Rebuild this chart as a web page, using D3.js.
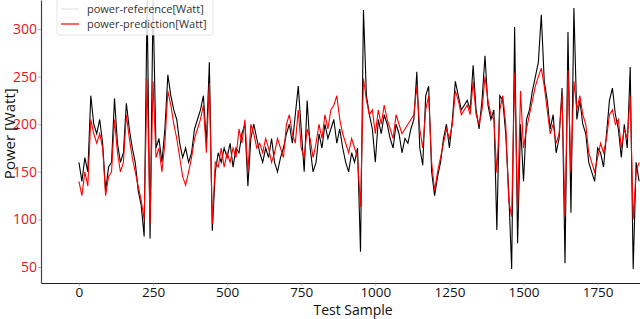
<!DOCTYPE html>
<html>
<head>
<meta charset="utf-8">
<script src="https://cdn.jsdelivr.net/npm/d3@7"></script>
<style>
  body { margin: 0; background: #fff; }
  text { font-family: "Open Sans", "Noto Sans", sans-serif; }
</style>
</head>
<body>
<div class="chart"></div>
<script>
// sample index every 10 test samples
var sampleStep = 10;

var reference = [160,140,165,150,230,200,190,205,180,130,155,160,227,180,160,170,222,195,175,160,
  130,115,82,330,80,330,175,185,160,195,252,230,215,205,180,165,175,160,170,195,
  205,215,230,180,265,88,150,170,160,175,165,180,155,175,170,190,200,135,185,200,
  185,170,160,175,165,185,160,150,165,175,190,200,180,210,240,195,150,225,175,150,
  160,190,175,200,185,195,205,180,195,175,160,150,170,160,175,66,320,230,210,195,
  160,205,190,210,200,185,175,200,190,170,185,180,195,205,255,175,157,230,240,150,
  125,145,160,185,200,175,205,245,230,215,220,225,215,262,215,195,225,272,220,205,
  215,89,230,225,190,130,48,302,75,200,140,205,215,235,250,265,315,245,225,195,
  210,170,185,238,54,297,107,322,205,225,200,190,160,150,140,175,170,155,190,225,
  238,210,195,165,200,175,260,48,160,140];

var prediction = [140,125,150,135,205,190,180,190,175,125,145,150,205,170,150,160,210,185,165,150,
  135,120,100,248,95,245,165,175,150,180,235,220,200,185,165,145,136,150,165,185,
  195,205,220,170,243,95,160,155,175,155,170,160,175,165,195,180,205,150,200,190,
  175,180,170,185,175,160,170,185,175,165,200,210,190,180,215,175,165,195,185,165,
  180,200,185,210,195,215,220,230,205,190,180,170,185,175,165,113,248,225,210,215,
  190,215,200,220,205,195,185,210,200,190,195,200,205,210,240,195,175,215,230,160,
  130,150,165,180,195,185,200,235,225,210,215,220,210,245,210,200,215,250,225,210,
  205,149,215,230,200,120,103,254,110,235,175,195,210,225,240,250,259,240,215,190,
  200,180,190,230,103,257,150,245,215,230,210,200,170,160,150,165,180,170,185,210,
  215,200,205,175,195,185,230,100,150,160];

var xTicks = [0, 250, 500, 750, 1000, 1250, 1500, 1750];
var yTicks = [50, 100, 150, 200, 250, 300];

var svgWidth = 640;
var svgHeight = 319;

var margin = { top: 0, right: 0, bottom: 36, left: 41 };
var width = svgWidth - margin.left - margin.right;
var height = svgHeight - margin.top - margin.bottom;

var svg = d3.select(".chart")
  .append("svg")
  .attr("width", svgWidth)
  .attr("height", svgHeight);

var chartGroup = svg.append("g")
  .attr("transform", `translate(${margin.left}, ${margin.top})`);

chartGroup.append("clipPath")
  .attr("id", "plot-clip")
  .append("rect")
  .attr("width", width)
  .attr("height", height);

var xScale = d3.scaleLinear().domain([-128, 1893]).range([0, width]);
var yScale = d3.scaleLinear().domain([33.2, 330.5]).range([height, 0]);

var line = d3.line()
  .x((d, i) => xScale(i * sampleStep))
  .y(d => yScale(d));

// reference first, prediction drawn on top
chartGroup.append("path")
  .datum(reference)
  .attr("clip-path", "url(#plot-clip)")
  .attr("fill", "none")
  .attr("stroke", "#000")
  .attr("stroke-width", 1.1)
  .attr("d", line);

chartGroup.append("path")
  .datum(prediction)
  .attr("clip-path", "url(#plot-clip)")
  .attr("fill", "none")
  .attr("stroke", "#ff0000")
  .attr("stroke-width", 1.1)
  .attr("d", line);

// axes
var bottomAxis = d3.axisBottom(xScale).tickValues(xTicks).tickFormat(d3.format("d"))
  .tickSize(3).tickSizeOuter(0);
var leftAxis = d3.axisLeft(yScale).tickValues(yTicks).tickFormat(d3.format("d"))
  .tickSize(3).tickSizeOuter(0);

var xAxisG = chartGroup.append("g")
  .attr("transform", `translate(0, ${height})`)
  .call(bottomAxis);
xAxisG.select(".domain").attr("stroke", "#222").attr("stroke-width", 1.2);
xAxisG.selectAll(".tick line").attr("stroke", "#888").attr("stroke-width", 0.6);
xAxisG.selectAll(".tick text")
  .attr("y", 4)
  .attr("font-size", 13.5)
  .attr("fill", "#111");

var yAxisG = chartGroup.append("g")
  .call(leftAxis);
yAxisG.select(".domain").attr("stroke", "#444").attr("stroke-width", 1.2);
yAxisG.selectAll(".tick line").attr("stroke", "#888").attr("stroke-width", 0.6);
yAxisG.selectAll(".tick text")
  .attr("x", -4)
  .attr("font-size", 14)
  .attr("fill", "#e8131b");

// axis labels
svg.append("text")
  .attr("x", margin.left + xScale(925))
  .attr("y", 315)
  .attr("text-anchor", "middle")
  .attr("font-size", 14)
  .attr("fill", "#111")
  .text("Test Sample");

svg.append("text")
  .attr("transform", `translate(15, ${yScale(190)}) rotate(-90)`)
  .attr("text-anchor", "middle")
  .attr("font-size", 15)
  .attr("fill", "#111")
  .text("Power [Watt]");

// legend
var legend = svg.append("g").attr("transform", "translate(57, -1)");
legend.append("rect")
  .attr("width", 156)
  .attr("height", 36)
  .attr("rx", 2)
  .attr("fill", "#fff")
  .attr("fill-opacity", 0.85)
  .attr("stroke", "#ddd")
  .attr("stroke-width", 0.8);

var legendItems = [
  { label: "power-reference[Watt]", color: "#e4e4e4" },
  { label: "power-prediction[Watt]", color: "#ff0000" }
];

legendItems.forEach(function(item, i) {
  var y = 10 + i * 15;
  legend.append("line")
    .attr("x1", 4).attr("x2", 22)
    .attr("y1", y).attr("y2", y)
    .attr("stroke", item.color)
    .attr("stroke-width", 1.2);
  legend.append("text")
    .attr("x", 30)
    .attr("y", y + 4)
    .attr("font-size", 11)
    .attr("fill", "#333")
    .text(item.label);
});
</script>
</body>
</html>
